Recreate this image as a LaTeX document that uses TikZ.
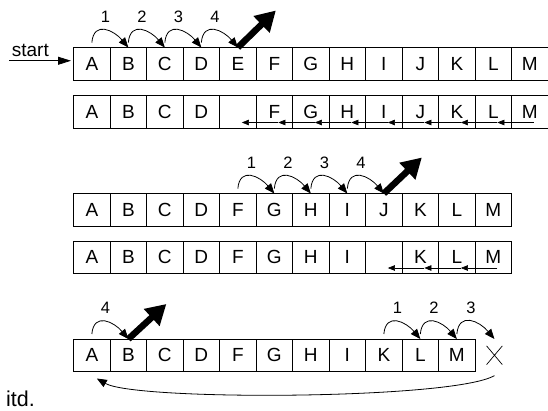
\documentclass[tikz,border=0pt]{standalone}
\usepackage{fontspec}
\setmainfont{Liberation Sans}
\usetikzlibrary{arrows.meta,positioning,shapes.misc}

\begin{document}
\begin{tikzpicture}[
    x=1pt, y=1pt,
    cell/.style={draw, line width=0.9pt, minimum width=36.5pt, minimum height=32.5pt, inner sep=0pt, outer sep=0pt, font=\fontsize{19}{19}\selectfont},
    num/.style={above=6.5pt, inner sep=1pt, font=\fontsize{16.5}{16.5}\selectfont},
    hop/.style={-{Triangle[length=10pt,width=8pt]}, line width=0.8pt, out=85, in=130, looseness=1.55},
    shiftarr/.style={-{Triangle[length=7pt,width=5.5pt]}, line width=0.6pt},
    jump/.style={-{Triangle[length=20pt,width=22pt]}, line width=6.5pt},
    ret/.style={-{Triangle[length=10pt,width=8pt]}, line width=0.8pt}
]
\useasboundingbox (0,0) rectangle (548,-410);

% rows of cells
\node[cell, anchor=west] (r1A) at (73.6,-63.75) {A};
\foreach \l [remember=\l as \p (initially A)] in {B,C,D,E,F,G,H,I,J,K,L,M}
  \node[cell, right=0pt of r1\p] (r1\l) {\l};

\node[cell, below=15.5pt of r1A] (r2A) {A};
\foreach \l/\t [remember=\l as \p (initially A)] in {B/B,C/C,D/D,E/{},F/F,G/G,H/H,I/I,J/J,K/K,L/L,M/M}
  \node[cell, right=0pt of r2\p] (r2\l) {\t};

\node[cell, below=65.5pt of r2A] (r3A) {A};
\foreach \l [remember=\l as \p (initially A)] in {B,C,D,F,G,H,I,J,K,L,M}
  \node[cell, right=0pt of r3\p] (r3\l) {\l};

\node[cell, below=15pt of r3A] (r4A) {A};
\foreach \l/\t [remember=\l as \p (initially A)] in {B/B,C/C,D/D,F/F,G/G,H/H,I/I,J/{},K/K,L/L,M/M}
  \node[cell, right=0pt of r4\p] (r4\l) {\t};

\node[cell, below=65.5pt of r4A] (r5A) {A};
\foreach \l [remember=\l as \p (initially A)] in {B,C,D,F,G,H,I,K,L,M}
  \node[cell, right=0pt of r5\p] (r5\l) {\l};
\node[draw, cross out, line width=0.7pt, minimum width=15pt, minimum height=18pt, right=11.5pt of r5M] (x) {};

% start
\coordinate (s0) at ([shift={(-64.3pt,3pt)}]r1A.west);
\node[anchor=base west, inner sep=0pt, font=\fontsize{19}{19}\selectfont] (start) at ([shift={(2.4pt,4.7pt)}]s0) {start};
\draw[-{Triangle[length=13pt,width=8pt]}, line width=0.8pt, shorten >=2.6pt] (s0) -- ([yshift=3pt]r1A.west);

% hops
\foreach \a/\b/\n in {A/B/1,B/C/2,C/D/3,D/E/4}
  \draw[hop] ([yshift=5pt]r1\a.north) to node[num] (h1\n) {\n} (r1\b.north);
\draw[jump] (r1E.north) -- ++(38,37);

\foreach \a/\b in {M/L,L/K,K/J,J/I,I/H,H/G,G/F,F/E}
  \draw[shiftarr] ([shift={(4pt,5.5pt)}]r2\a.south) -- ([shift={(4pt,5.5pt)}]r2\b.south);

\foreach \a/\b/\n in {F/G/1,G/H/2,H/I/3,I/J/4}
  \draw[hop] ([yshift=5pt]r3\a.north) to node[num] (h3\n) {\n} (r3\b.north);
\draw[jump] (r3J.north) -- ++(38,36);

\foreach \a/\b in {M/L,L/K,K/J}
  \draw[shiftarr] ([shift={(4pt,5.5pt)}]r4\a.south) -- ([shift={(4pt,5.5pt)}]r4\b.south);

\foreach \a/\b/\n in {A/B/4,K/L/1,L/M/2}
  \draw[hop] ([yshift=5pt]r5\a.north) to node[num] (h5\n) {\n} (r5\b.north);
\draw[hop] ([yshift=5pt]r5M.north) to node[num] (h53) {3} (x |- r5M.north);
\draw[jump] (r5B.north) -- ++(38,35);

% back to the start
\draw[ret] ([yshift=-11pt]x.south) to[out=-150, in=-30, out distance=48pt, in distance=45pt] ([shift={(5pt,-7pt)}]r5A.south);

\node[anchor=base west, inner sep=0pt, font=\fontsize{21.5}{21.5}\selectfont] (itd) at (6,-406.7) {itd.};
\end{tikzpicture}
\end{document}
